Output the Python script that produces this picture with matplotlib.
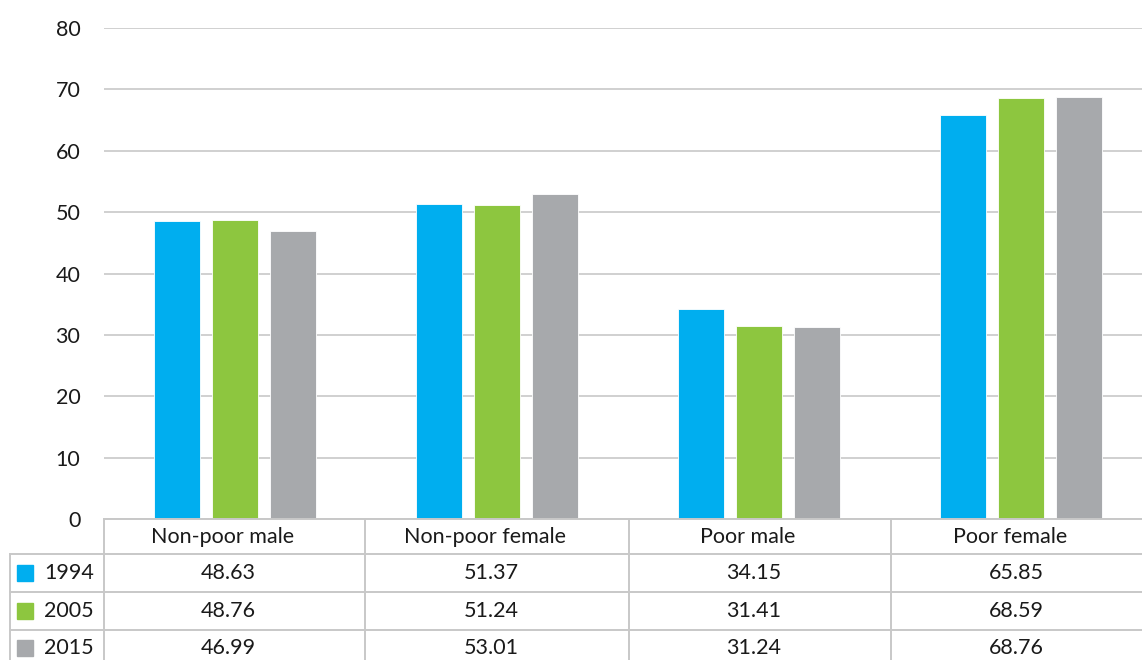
import numpy as np
import matplotlib
matplotlib.use("Agg")
import matplotlib.pyplot as plt

plt.rcParams['font.family'] = ['Lato', 'DejaVu Sans']

categories = ['Non-poor male', 'Non-poor female', 'Poor male', 'Poor female']
years = ['1994', '2005', '2015']
v1994 = [48.63, 51.37, 34.15, 65.85]
v2005 = [48.76, 51.24, 31.41, 68.59]
v2015 = [46.99, 53.01, 31.24, 68.76]
series = [v1994, v2005, v2015]
colors = ['#00AEEF', '#8DC63F', '#A7A9AC']

W, H = 1142, 660
fig = plt.figure(figsize=(W / 100, H / 100), dpi=100)

# main plot area (pixel layout from the reference, right edge runs past the image)
left, right, top, bottom = 104, 1152, 28, 519
ax = fig.add_axes([left / W, 1 - bottom / H, (right - left) / W, (bottom - top) / H])

x = np.arange(len(categories))
offsets = [-0.222, 0.0, 0.222]
bw = 0.174
for vals, off, c in zip(series, offsets, colors):
    ax.bar(x + off, vals, width=bw, color=c, edgecolor='white', linewidth=0.6, zorder=3)

ax.set_xlim(-0.5, 3.5)
ax.set_ylim(0, 80)
ax.set_yticks(range(0, 81, 10))
ax.yaxis.grid(True, color='#d0d0d0', linewidth=1.4)
ax.set_axisbelow(True)
for s in ax.spines.values():
    s.set_visible(False)
ax.tick_params(axis='y', length=0, pad=17, labelsize=15.5, labelcolor='#1a1a1a')
ax.set_xticks([])

# data table drawn in pixel coordinates
tab = fig.add_axes([0, 0, 1, 1], facecolor='none')
tab.set_xlim(0, W)
tab.set_ylim(H, 0)
tab.axis('off')

lc = '#c8c8c8'
lw = 1.4
col_edges = [104, 365, 629, 891, 1153]
row_edges = [519, 554, 592, 630]
label_left = 10

tab.plot([col_edges[0], col_edges[-1]], [row_edges[0]] * 2, color=lc, lw=lw)
for ry in row_edges[1:]:
    tab.plot([label_left, col_edges[-1]], [ry, ry], color=lc, lw=lw)
for cx in col_edges:
    tab.plot([cx, cx], [row_edges[0], H], color=lc, lw=lw)
tab.plot([label_left, label_left], [row_edges[1], H], color=lc, lw=lw)

tc = '#1a1a1a'
fs = 15.5
row_y = [573, 611, 648]
for i, cat in enumerate(categories):
    cx = (col_edges[i] + col_edges[i + 1]) / 2 - 12
    tab.text(cx, 537, cat, ha='center', va='center', fontsize=fs, color=tc)
for yr, vals, c, cy in zip(years, series, colors, row_y):
    tab.add_patch(plt.Rectangle((17, cy - 8), 16, 16, color=c))
    tab.text(44, cy, yr, ha='left', va='center', fontsize=fs, color=tc)
    for i, v in enumerate(vals):
        cx = (col_edges[i] + col_edges[i + 1]) / 2 - 6
        tab.text(cx, cy, f'{v:.2f}', ha='center', va='center', fontsize=fs, color=tc)

fig.savefig('out.png', dpi=100)
